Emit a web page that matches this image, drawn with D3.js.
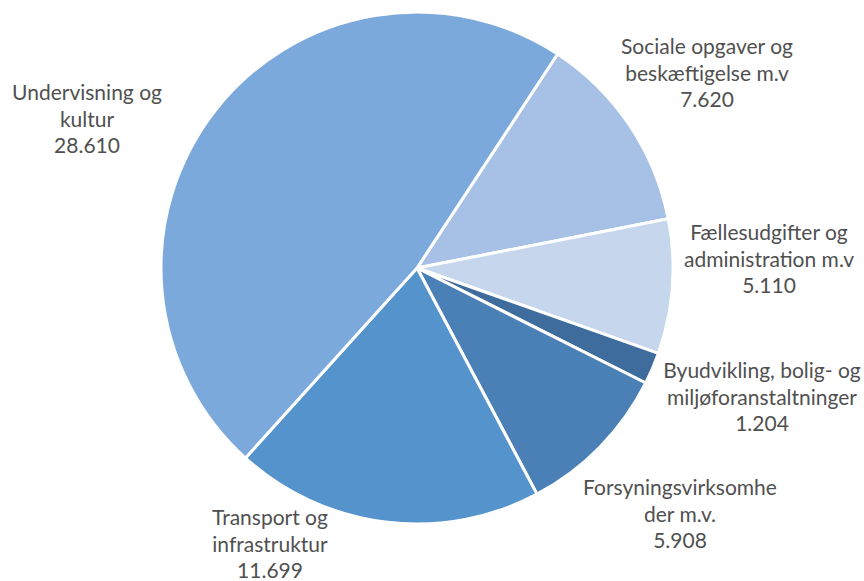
<!DOCTYPE html>
<html>
<head>
<meta charset="utf-8">
<script src="https://cdn.jsdelivr.net/npm/d3@7"></script>
<style>
  body { margin: 0; background: #fff; }
  svg text { font-family: Lato, "Liberation Sans", sans-serif; }
</style>
</head>
<body>
<svg id="drawing_region"></svg>
<script>
// data, in the order Excel draws the slices (clockwise)
const categories = [
  ["Sociale opgaver og", "beskæftigelse m.v"],
  ["Fællesudgifter og", "administration m.v"],
  ["Byudvikling, bolig- og", "miljøforanstaltninger"],
  ["Forsyningsvirksomhe", "der m.v."],
  ["Transport og", "infrastruktur"],
  ["Undervisning og", "kultur"]
];
const values = [7620, 5110, 1204, 5908, 11699, 28610];
const valueLabels = ["7.620", "5.110", "1.204", "5.908", "11.699", "28.610"];
const colors = ["#a6c1e5", "#c6d6ec", "#3e6c9c", "#4a80b6", "#5593cc", "#7ba9db"];

// label centres (x, first line y)
const labelPos = [
  [707, 54], [769, 240], [762, 378], [680, 495], [270, 525], [87, 100]
];

class PieChart {
  constructor(config) {
    this.config = config;
    this.init();
  }
  init() {
    let self = this;
    self.root = d3.select(self.config.parent)
      .attr('width', self.config.width)
      .attr('height', self.config.height);
    self.svg = self.root.append('g')
      .attr('transform', `translate(${self.config.cx}, ${self.config.cy})`);
    self.update();
  }
  update() {
    let self = this;
    self.pie = d3.pie().sort(null).value(d => d)
      .startAngle(self.config.startAngle)
      .endAngle(self.config.startAngle + 2 * Math.PI);
    self.arc = d3.arc().innerRadius(0).outerRadius(self.config.radius);
    self.render();
  }
  render() {
    let self = this;
    self.svg.selectAll('path').data(self.pie(values)).enter().append('path')
      .attr('d', self.arc)
      .attr('fill', (d, i) => colors[i])
      .attr('stroke', 'white')
      .attr('stroke-width', 3)
      .attr('stroke-linejoin', 'round');

    const lab = self.root.selectAll('text.lab').data(categories).enter().append('text')
      .attr('class', 'lab')
      .attr('text-anchor', 'middle')
      .attr('fill', '#505050')
      .attr('font-size', '21px');
    lab.each(function (d, i) {
      const t = d3.select(this);
      const lines = d.concat([valueLabels[i]]);
      lines.forEach((s, j) => {
        t.append('tspan')
          .attr('x', labelPos[i][0])
          .attr('y', labelPos[i][1] + j * 26.5)
          .text(s);
      });
    });
  }
}

const chart = new PieChart({
  parent: '#drawing_region',
  width: 864,
  height: 581,
  cx: 417,
  cy: 268,
  radius: 256,
  startAngle: 33.3 * Math.PI / 180
});
</script>
</body>
</html>
